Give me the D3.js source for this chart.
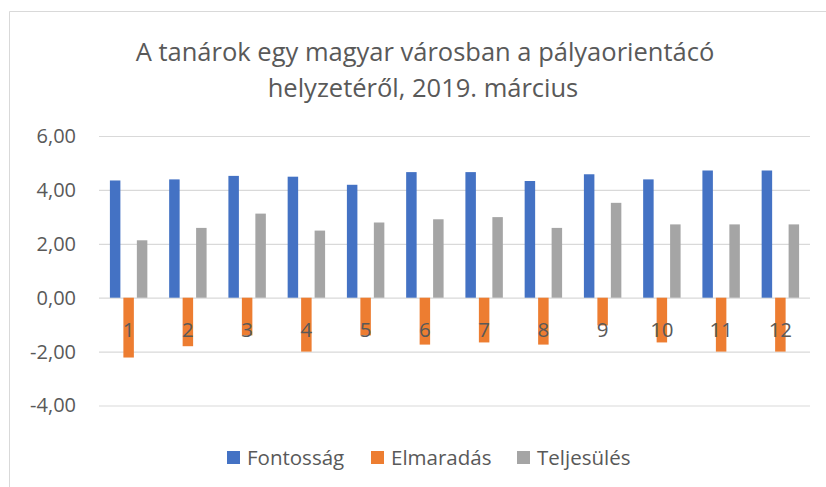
<!DOCTYPE html>
<html>
<head>
<meta charset="utf-8">
<script src="https://cdn.jsdelivr.net/npm/d3@7"></script>
<style>
  body { margin: 0; background: #fff; }
  svg text { font-family: "Open Sans", "Noto Sans", sans-serif; fill: #595959; }
</style>
</head>
<body>
<svg id="chart" width="826" height="487"></svg>
<script>
// data
const categories = ["1", "2", "3", "4", "5", "6", "7", "8", "9", "10", "11", "12"];
const seriesNames = ["Fontosság", "Elmaradás", "Teljesülés"];
const fontossag = [4.35, 4.39, 4.52, 4.49, 4.19, 4.66, 4.66, 4.33, 4.58, 4.39, 4.72, 4.72];
const elmaradas = [-2.22, -1.80, -1.40, -2.00, -1.40, -1.74, -1.66, -1.74, -1.03, -1.66, -2.00, -2.00];
const teljesules = [2.13, 2.59, 3.12, 2.49, 2.79, 2.91, 2.99, 2.59, 3.52, 2.72, 2.72, 2.72];
const yTicks = [-4, -2, 0, 2, 4, 6];
const colors = ["#4472C4", "#ED7D31", "#A5A5A5"];

const values = [fontossag, elmaradas, teljesules];
const svg = d3.select("#chart");

// chart border (only top and left are visible in the picture)
svg.append("path")
  .attr("d", "M9.5,487 V11.5 H826")
  .attr("fill", "none")
  .attr("stroke", "#D9D9D9")
  .attr("stroke-width", 1);

// plot area
const plotLeft = 99, plotRight = 810, plotTop = 136, plotBottom = 405.5;

const x0 = d3.scaleBand().domain(categories).range([plotLeft, plotRight]);
const x1 = d3.scaleBand().domain(seriesNames)
  .range([x0.bandwidth() * 0.184, x0.bandwidth() * 0.816])
  .paddingInner(0.222);
const y = d3.scaleLinear().domain([-4, 6]).range([plotBottom, plotTop]);

const loc = d3.formatLocale({ decimal: ",", thousands: " ", grouping: [3], currency: ["", " Ft"], minus: "-" });
const fmt = loc.format(".2f");

// y axis with gridlines
const yAxis = svg.append("g")
  .attr("transform", "translate(" + plotLeft + ",0)")
  .call(d3.axisLeft(y).tickValues(yTicks).tickSize(-(plotRight - plotLeft)).tickPadding(23).tickFormat(fmt));
yAxis.select(".domain").remove();
yAxis.selectAll(".tick line").attr("stroke", "#D9D9D9").attr("stroke-width", 1.2);
yAxis.selectAll(".tick text")
  .attr("font-size", 20)
  .attr("fill", "#595959")
  .style("font-family", "'Open Sans', sans-serif");

// bars
seriesNames.forEach(function (name, si) {
  svg.append("g")
    .attr("fill", colors[si])
    .selectAll("rect")
    .data(values[si])
    .join("rect")
    .attr("x", (d, i) => x0(categories[i]) + x1(name))
    .attr("width", x1.bandwidth())
    .attr("y", d => y(Math.max(0, d)))
    .attr("height", d => Math.abs(y(d) - y(0)));
});

// category labels, drawn over the bars
svg.append("g")
  .selectAll("text")
  .data(categories)
  .join("text")
  .attr("x", d => x0(d) + x0.bandwidth() / 2)
  .attr("y", 330)
  .attr("dy", "0.35em")
  .attr("text-anchor", "middle")
  .attr("font-size", 20.5)
  .text(d => d);

// title
const title = svg.append("text")
  .attr("text-anchor", "middle")
  .attr("font-size", 25.5);
title.append("tspan").attr("x", 425).attr("y", 61).text("A tanárok egy magyar városban a pályaorientácó");
title.append("tspan").attr("x", 423).attr("y", 97).text("helyzetéről, 2019. március");

// legend
const legendX = [227, 371, 517];
const legend = svg.append("g");
seriesNames.forEach(function (name, si) {
  legend.append("rect")
    .attr("x", legendX[si]).attr("y", 451)
    .attr("width", 13).attr("height", 13)
    .attr("fill", colors[si]);
  legend.append("text")
    .attr("x", legendX[si] + 20).attr("y", 458)
    .attr("dy", "0.35em")
    .attr("font-size", 20.5)
    .text(name);
});
</script>
</body>
</html>
